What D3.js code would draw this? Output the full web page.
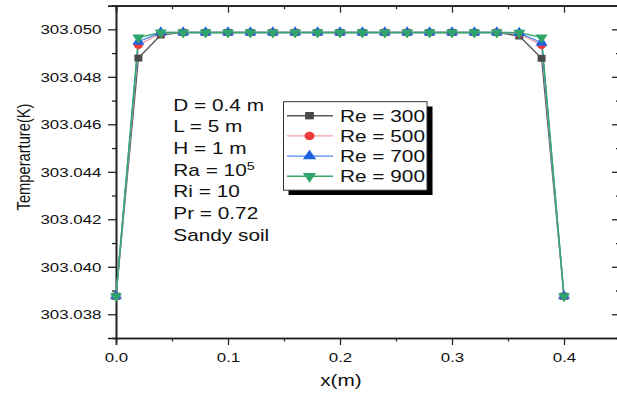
<!DOCTYPE html>
<html><head><meta charset="utf-8">
<script src="https://cdn.jsdelivr.net/npm/d3@7"></script>
<style>body{margin:0;background:#fff}svg{display:block}text{font-family:"Liberation Sans",Arial,sans-serif;fill:#111}</style>
</head><body>
<script>
const xValues = [0,0.02,0.04,0.06,0.08,0.10,0.12,0.14,0.16,0.18,0.20,0.22,0.24,0.26,0.28,0.30,0.32,0.34,0.36,0.38,0.40];
const re300 = [303.03876,303.04879,303.04976,303.04987,303.04987,303.04987,303.04987,303.04987,303.04987,303.04987,303.04987,303.04987,303.04987,303.04987,303.04987,303.04987,303.04987,303.04987,303.04972,303.04878,303.03876];
const re500 = [303.03876,303.04934,303.04984,303.04987,303.04987,303.04987,303.04987,303.04987,303.04987,303.04987,303.04987,303.04987,303.04987,303.04987,303.04987,303.04987,303.04987,303.04987,303.04982,303.04934,303.03876];
const re700 = [303.03876,303.04948,303.04987,303.04987,303.04987,303.04987,303.04987,303.04987,303.04987,303.04987,303.04987,303.04987,303.04987,303.04987,303.04987,303.04987,303.04987,303.04987,303.04985,303.04944,303.03876];
const re900 = [303.03876,303.04965,303.04987,303.04987,303.04987,303.04987,303.04987,303.04987,303.04987,303.04987,303.04987,303.04987,303.04987,303.04987,303.04987,303.04987,303.04987,303.04987,303.04986,303.04966,303.03876];
const seriesNames = ["Re = 300","Re = 500","Re = 700","Re = 900"];
const xTicks = [0,0.1,0.2,0.3,0.4];
const yTicks = [303.038,303.040,303.042,303.044,303.046,303.048,303.050];
const annotation = ["D = 0.4 m","L = 5 m","H = 1 m","Ra = 10|5","Ri = 10","Pr = 0.72","Sandy soil"];

const W=617,H=395, L=116, R=620, T=5.6, B=338;
const SX=1.3;
const svg=d3.select("body").append("svg").attr("width",W).attr("height",H);
const x=d3.scaleLinear().domain([0,0.45]).range([L,R]);
const y=d3.scaleLinear().domain([303.037,303.051]).range([B,T]);

const styles=[
 {line:"#5a5a5a",mark:"#4a4a4a",shape:d3.symbolSquare,size:48,rot:0},
 {line:"#f3a0a0",mark:"#ee3a3a",shape:d3.symbolCircle,size:50,rot:0},
 {line:"#4d8df0",mark:"#1d63e0",shape:d3.symbolTriangle,size:48,rot:0},
 {line:"#35a86a",mark:"#2fa56b",shape:d3.symbolTriangle,size:48,rot:180}
];
const allSeries=[re300,re500,re700,re900];

// axes
const axisColor="#222";
const gx=svg.append("g").attr("transform",`translate(0,${B})`)
  .call(d3.axisBottom(x).tickValues(xTicks).tickSize(7).tickFormat(d3.format(".1f")));
const gxMinor=svg.append("g").attr("transform",`translate(0,${B})`)
  .call(d3.axisBottom(x).tickValues([0.05,0.15,0.25,0.35]).tickSize(3.5).tickFormat(""));
const gy=svg.append("g").attr("transform",`translate(${L},0)`)
  .call(d3.axisLeft(y).tickValues(yTicks).tickSize(8).tickFormat(d3.format(".3f")));
const gyMinor=svg.append("g").attr("transform",`translate(${L},0)`)
  .call(d3.axisLeft(y).tickValues([303.039,303.041,303.043,303.045,303.047,303.049]).tickSize(4).tickFormat(""));
const gt=svg.append("g").attr("transform",`translate(0,${T})`)
  .call(d3.axisBottom(x).tickValues(xTicks).tickSize(7).tickFormat(""));
const gtMinor=svg.append("g").attr("transform",`translate(0,${T})`)
  .call(d3.axisBottom(x).tickValues([0.05,0.15,0.25,0.35]).tickSize(3.5).tickFormat(""));
const gr=svg.append("g").attr("transform",`translate(${R},0)`)
  .call(d3.axisLeft(y).tickValues(yTicks).tickSize(-8).tickFormat(""));
gr.selectAll(".tick line").attr("x2",-8);
const grMinor=svg.append("g").attr("transform",`translate(${R},0)`)
  .call(d3.axisLeft(y).tickValues([303.039,303.041,303.043,303.045,303.047,303.049]).tickSize(4).tickFormat(""));
grMinor.selectAll(".tick line").attr("x2",-4);
[gx,gxMinor,gy,gyMinor,gt,gtMinor,gr,grMinor].forEach(g=>{
  g.select(".domain").attr("stroke",axisColor).attr("stroke-width",1.6);
  g.selectAll(".tick line").attr("stroke",axisColor).attr("stroke-width",1.3);
});
[gt,gtMinor,gr,grMinor,gxMinor,gyMinor].forEach(g=>g.select(".domain").attr("stroke-width",1.6));

gx.selectAll(".tick text").attr("y",0).attr("dy",0)
  .attr("transform","translate(0,23.5) scale(1.3,1)")
  .style("font-size","13px").attr("fill","#111").style("font-family","Liberation Sans, Arial, sans-serif");
gy.selectAll(".tick text").attr("x",0).attr("dy","0.35em")
  .attr("transform","translate(-14.5,0) scale(1.3,1)").attr("text-anchor","end")
  .style("font-size","13px").attr("fill","#111").style("font-family","Liberation Sans, Arial, sans-serif");

// series
allSeries.forEach((vals,i)=>{
  const st=styles[i];
  const pts=xValues.map((xv,j)=>[xv,vals[j]]);
  svg.append("path").datum(pts)
    .attr("fill","none").attr("stroke",st.line).attr("stroke-width",1.4)
    .attr("d",d3.line().x(d=>x(d[0])).y(d=>y(d[1])));
});
allSeries.forEach((vals,i)=>{
  const st=styles[i];
  const pts=xValues.map((xv,j)=>[xv,vals[j]]);
  svg.append("g").selectAll("path").data(pts).join("path")
    .attr("transform",d=>`translate(${x(d[0])},${y(d[1])}) rotate(${st.rot}) scale(1.15,1)`)
    .attr("d",d3.symbol().type(st.shape).size(st.size))
    .attr("fill",st.mark);
});

// annotation
const ann=svg.append("g");
annotation.forEach((t,i)=>{
  const g=ann.append("g").attr("transform",`translate(173.3,${110.7+i*21.67}) scale(${SX},1)`);
  const txt=g.append("text").style("font-size","16px");
  const parts=t.split("|");
  txt.append("tspan").text(parts[0]);
  if(parts[1]) txt.append("tspan").attr("dy",-6).style("font-size","11px").text(parts[1]);
});

// legend
const lg=svg.append("g");
lg.append("rect").attr("x",288.5).attr("y",106.5).attr("width",144).attr("height",88.5).attr("fill","#000");
lg.append("rect").attr("x",283.5).attr("y",101.7).attr("width",143.5).attr("height",88.5).attr("fill","#fff").attr("stroke","#333").attr("stroke-width",1);
seriesNames.forEach((name,i)=>{
  const st=styles[i];
  const yy=115.7+i*20.2;
  lg.append("line").attr("x1",287).attr("x2",333).attr("y1",yy).attr("y2",yy).attr("stroke",st.line).attr("stroke-width",1.4);
  lg.append("path").attr("transform",`translate(309.5,${yy}) rotate(${st.rot}) scale(1.2,1)`)
    .attr("d",d3.symbol().type(st.shape).size(st.size+6)).attr("fill",st.mark);
  lg.append("g").attr("transform",`translate(340,${yy+5.8}) scale(${SX},1)`)
    .append("text").style("font-size","16px").text(name);
});

// axis titles
svg.append("g").attr("transform",`translate(341,385.5) scale(${SX},1)`)
  .append("text").attr("text-anchor","middle").style("font-size","16px").text("x(m)");
svg.append("g").attr("transform",`translate(29.5,157) scale(${SX},1) rotate(-90)`)
  .append("text").attr("text-anchor","middle").style("font-size","14.7px").text("Temperarture(K)");
</script>
</body></html>
